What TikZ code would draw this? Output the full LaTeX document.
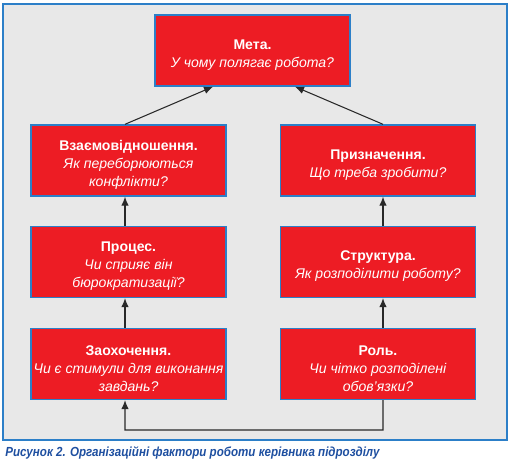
\documentclass[tikz,border=0pt]{standalone}
\usepackage{fontspec}
\setmainfont{Liberation Sans}
\usetikzlibrary{arrows.meta,calc}
\definecolor{BoxClr}{RGB}{237,28,36}
\definecolor{EdgeClr}{RGB}{44,127,200}
\definecolor{BackClr}{RGB}{232,232,232}
\definecolor{CaptClr}{RGB}{30,79,160}
\definecolor{ArrClr}{RGB}{40,40,40}
\newcommand{\fhead}[1]{\rule{0pt}{10.5pt}\textbf{#1}}

\tikzset{
  factor/.style={draw=EdgeClr,line width=0.8pt,fill=BoxClr,text=white,
    minimum width=3.9cm,minimum height=1.42cm,align=center,inner sep=1pt,
    font=\fontsize{8}{10.3}\selectfont},
  arr/.style={draw=ArrClr,line width=0.6pt,-{Latex[length=1.8mm,width=1.5mm]}}
}

\begin{document}
\begin{tikzpicture}[x=0.02cm,y=-0.02cm]
\useasboundingbox (0,0) rectangle (510,463);
\draw[EdgeClr,line width=1pt,fill=BackClr] (3,4) rectangle (507,440);

% top
\node[factor] (meta) at (252.5,50.5) {\fhead{Мета.}\\\textit{У чому полягає робота?}};

% left column
\node[factor] (vzaem) at (128.5,160.5) {\fhead{Взаємовідношення.}\\\textit{Як переборюються}\\\textit{конфлікти?}};
\node[factor] (proc) at (128.5,262) {\fhead{Процес.}\\\textit{Чи сприяє він}\\\textit{бюрократизації?}};
\node[factor] (zaoh) at (128.5,364) {\fhead{Заохочення.}\\\textit{Чи є стимули для виконання}\\\textit{завдань?}};

% right column
\node[factor] (pryzn) at (378,160.5) {\fhead{Призначення.}\\\textit{Що треба зробити?}};
\node[factor] (strukt) at (378,262) {\fhead{Структура.}\\\textit{Як розподілити роботу?}};
\node[factor] (rol) at (378,364) {\fhead{Роль.}\\\textit{Чи чітко розподілені}\\\textit{обов’язки?}};

\coordinate (loopL) at (125,430);
\coordinate (loopR) at (383,430);

\draw[arr] ([xshift=-0.07cm]vzaem.north) -- ([xshift=-0.79cm]meta.south);
\draw[arr] ([xshift=0.1cm]pryzn.north) -- ([xshift=0.85cm]meta.south);
\draw[arr] ([xshift=-0.07cm]proc.north) -- ([xshift=-0.07cm]vzaem.south);
\draw[arr] ([xshift=-0.07cm]zaoh.north) -- ([xshift=-0.07cm]proc.south);
\draw[arr] ([xshift=0.1cm]strukt.north) -- ([xshift=0.1cm]pryzn.south);
\draw[arr] ([xshift=0.1cm]rol.north) -- ([xshift=0.1cm]strukt.south);
\draw[arr] ([xshift=0.1cm]rol.south) -- (loopR) -- (loopL) -- ([xshift=-0.07cm]zaoh.south);

\node[anchor=west,text=CaptClr,inner sep=0pt,font=\fontsize{7.5}{10}\selectfont\bfseries\itshape\addfontfeature{FakeStretch=0.88}] (capt) at (5,453)
  {Рисунок 2. Організаційні фактори роботи керівника підрозділу};
\end{tikzpicture}
\end{document}
